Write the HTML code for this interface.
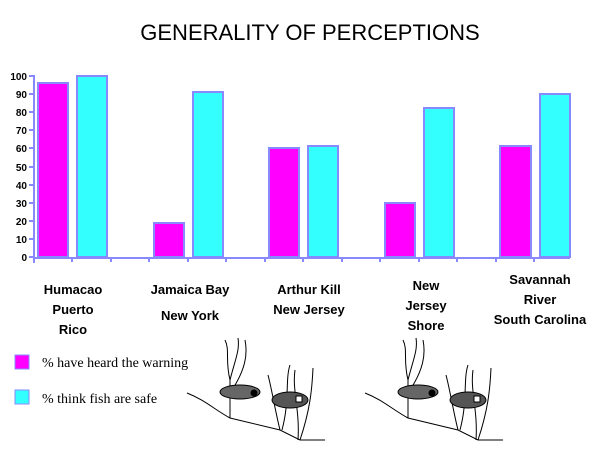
<!DOCTYPE html>
<html><head><style>
body{margin:0;background:#fff;width:600px;height:450px;overflow:hidden}
svg{display:block}
</style></head><body>
<svg width="600" height="450" xmlns="http://www.w3.org/2000/svg">
<text x="310" y="40" font-family="Liberation Sans, sans-serif" font-size="22" text-anchor="middle" fill="#000">GENERALITY OF PERCEPTIONS</text>
<g stroke="#8888ff" stroke-width="2" fill="none">
<line x1="34" y1="75" x2="34" y2="258"/>
<line x1="33" y1="258" x2="570" y2="258"/>
</g>
<g stroke="#8888ff" stroke-width="2">
<line x1="29" y1="76" x2="34" y2="76"/><line x1="29" y1="94" x2="34" y2="94"/><line x1="29" y1="112" x2="34" y2="112"/><line x1="29" y1="130" x2="34" y2="130"/><line x1="29" y1="148" x2="34" y2="148"/><line x1="29" y1="167" x2="34" y2="167"/><line x1="29" y1="185" x2="34" y2="185"/><line x1="29" y1="203" x2="34" y2="203"/><line x1="29" y1="221" x2="34" y2="221"/><line x1="29" y1="239" x2="34" y2="239"/><line x1="29" y1="257" x2="34" y2="257"/>
<line x1="34" y1="258" x2="34" y2="263"/><line x1="72" y1="258" x2="72" y2="262"/><line x1="111" y1="258" x2="111" y2="262"/><line x1="149" y1="258" x2="149" y2="262"/><line x1="188" y1="258" x2="188" y2="262"/>
<line x1="226" y1="258" x2="226" y2="262"/><line x1="265" y1="258" x2="265" y2="262"/><line x1="303" y1="258" x2="303" y2="262"/><line x1="342" y1="258" x2="342" y2="262"/><line x1="380" y1="258" x2="380" y2="262"/><line x1="419" y1="258" x2="419" y2="262"/><line x1="457" y1="258" x2="457" y2="262"/><line x1="496" y1="258" x2="496" y2="262"/><line x1="534" y1="258" x2="534" y2="262"/>
</g>
<g font-family="Liberation Sans, sans-serif" font-size="10" font-weight="bold" text-anchor="end">
<text x="27" y="80">100</text><text x="27" y="98">90</text><text x="27" y="116">80</text><text x="27" y="134">70</text><text x="27" y="152">60</text><text x="27" y="171">50</text><text x="27" y="189">40</text><text x="27" y="207">30</text><text x="27" y="225">20</text><text x="27" y="243">10</text><text x="27" y="261">0</text>
</g>
<g stroke="#8888ff" stroke-width="2">
<rect x="38" y="83" width="30" height="174" fill="#ff00ff"/>
<rect x="77" y="76" width="30" height="181" fill="#33ffff"/>
<rect x="154" y="223" width="30" height="34" fill="#ff00ff"/>
<rect x="193" y="92" width="30" height="165" fill="#33ffff"/>
<rect x="269" y="148" width="30" height="109" fill="#ff00ff"/>
<rect x="308" y="146" width="30" height="111" fill="#33ffff"/>
<rect x="385" y="203" width="30" height="54" fill="#ff00ff"/>
<rect x="424" y="108" width="30" height="149" fill="#33ffff"/>
<rect x="500" y="146" width="31" height="111" fill="#ff00ff"/>
<rect x="540" y="94" width="30" height="163" fill="#33ffff"/>
</g>
<g font-family="Liberation Sans, sans-serif" font-size="13" font-weight="bold" text-anchor="middle" fill="#000">
<text x="73" y="294">Humacao</text><text x="73" y="314">Puerto</text><text x="73" y="334">Rico</text>
<text x="190" y="294">Jamaica Bay</text><text x="190" y="320">New York</text>
<text x="309" y="294">Arthur Kill</text><text x="309" y="314">New Jersey</text>
<text x="426" y="290">New</text><text x="426" y="310">Jersey</text><text x="426" y="330">Shore</text>
<text x="540" y="284">Savannah</text><text x="540" y="304">River</text><text x="540" y="324">South Carolina</text>
</g>
<rect x="15" y="355" width="14" height="14" fill="#ff00ff" stroke="#8888ff"/>
<rect x="15" y="390" width="14" height="14" fill="#33ffff" stroke="#8888ff"/>
<g font-family="Liberation Serif, serif" font-size="14" fill="#000">
<text x="42" y="367">% have heard the warning</text>
<text x="42" y="403">% think fish are safe</text>
</g>
<g id="sc" stroke="#000" stroke-width="1" fill="none">
<path d="M187 393 C205 400 215 410 230 418 L280 430 L300 440 L325 440"/>
<path d="M230 418 L230 380 C225 360 230 350 225 340"/><path d="M230 380 C235 360 240 350 238 338"/><path d="M232 390 C245 370 248 355 245 340"/>
<path d="M280 430 C275 410 272 390 268 375"/><path d="M282 430 C290 400 285 380 290 365"/><path d="M298 440 C300 410 292 390 295 370"/><path d="M300 440 C310 410 312 390 313 368"/>
<ellipse cx="240" cy="392" rx="20" ry="7" fill="#666"/><circle cx="254" cy="393" r="3" fill="#000"/>
<ellipse cx="290" cy="400" rx="18" ry="8" fill="#555"/><rect x="296" y="396" width="6" height="6" fill="#fff"/>
</g>
<use href="#sc" x="178"/>
</svg>
</body></html>
